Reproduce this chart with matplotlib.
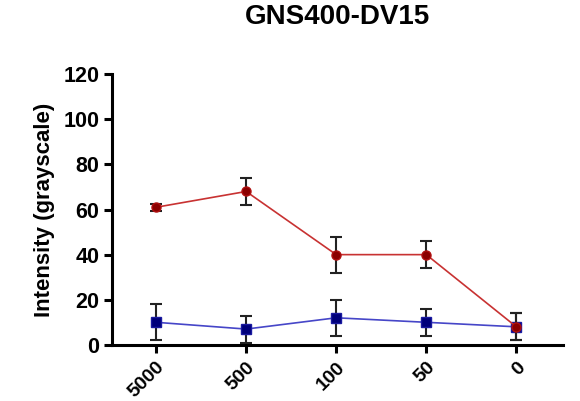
import matplotlib.pyplot as plt
import numpy as np

plt.rcParams['font.family'] = ['Liberation Sans', 'DejaVu Sans']

# data
categories = ["5000", "500", "100", "50", "0"]
red_values = [61, 68, 40, 40, 8]
red_err = [1.5, 6, 8, 6, 6]
blue_values = [10, 7, 12, 10, 8]
blue_err = [8, 6, 8, 6, 6]
y_ticks = [0, 20, 40, 60, 80, 100, 120]

x = np.arange(len(categories))

fig = plt.figure(figsize=(5.8, 4.01), dpi=100)
ax = fig.add_axes([0.193, 0.140, 0.778, 0.675])

# blue series first, red on top
ax.errorbar(x, blue_values, yerr=blue_err, color="#4646c8", lw=1.2,
            marker="s", ms=7, mfc="#00007a", mec="#1a1aa0",
            ecolor="#222222", elinewidth=1.5, capsize=4, capthick=1.5, zorder=3)
ax.errorbar(x, red_values, yerr=red_err, color="#c83232", lw=1.2,
            marker="o", ms=6.5, mfc="#8b0000", mec="#b01010",
            ecolor="#222222", elinewidth=1.5, capsize=4, capthick=1.5, zorder=4)

ax.set_xlim(-0.49, 4.52)
ax.set_ylim(0, 120)
ax.set_yticks(y_ticks)
ax.set_xticks(x)
ax.set_xticklabels(categories, rotation=45, ha="right", rotation_mode="anchor")

for side in ["top", "right"]:
    ax.spines[side].set_visible(False)
for side in ["left", "bottom"]:
    ax.spines[side].set_linewidth(2.2)
    ax.spines[side].set_color("black")

ax.tick_params(axis="y", width=2.2, length=6, labelsize=15.5, direction="out", pad=3)
ax.tick_params(axis="x", width=2.2, length=6, labelsize=14, direction="out", pad=4)
for lab in ax.get_xticklabels() + ax.get_yticklabels():
    lab.set_fontweight("bold")

ax.set_ylabel("Intensity (grayscale)", fontsize=16, fontweight="bold", labelpad=6)
ax.set_title("GNS400-DV15", fontsize=20, fontweight="bold", pad=36, x=0.50)

fig.savefig("out.png", dpi=100)
